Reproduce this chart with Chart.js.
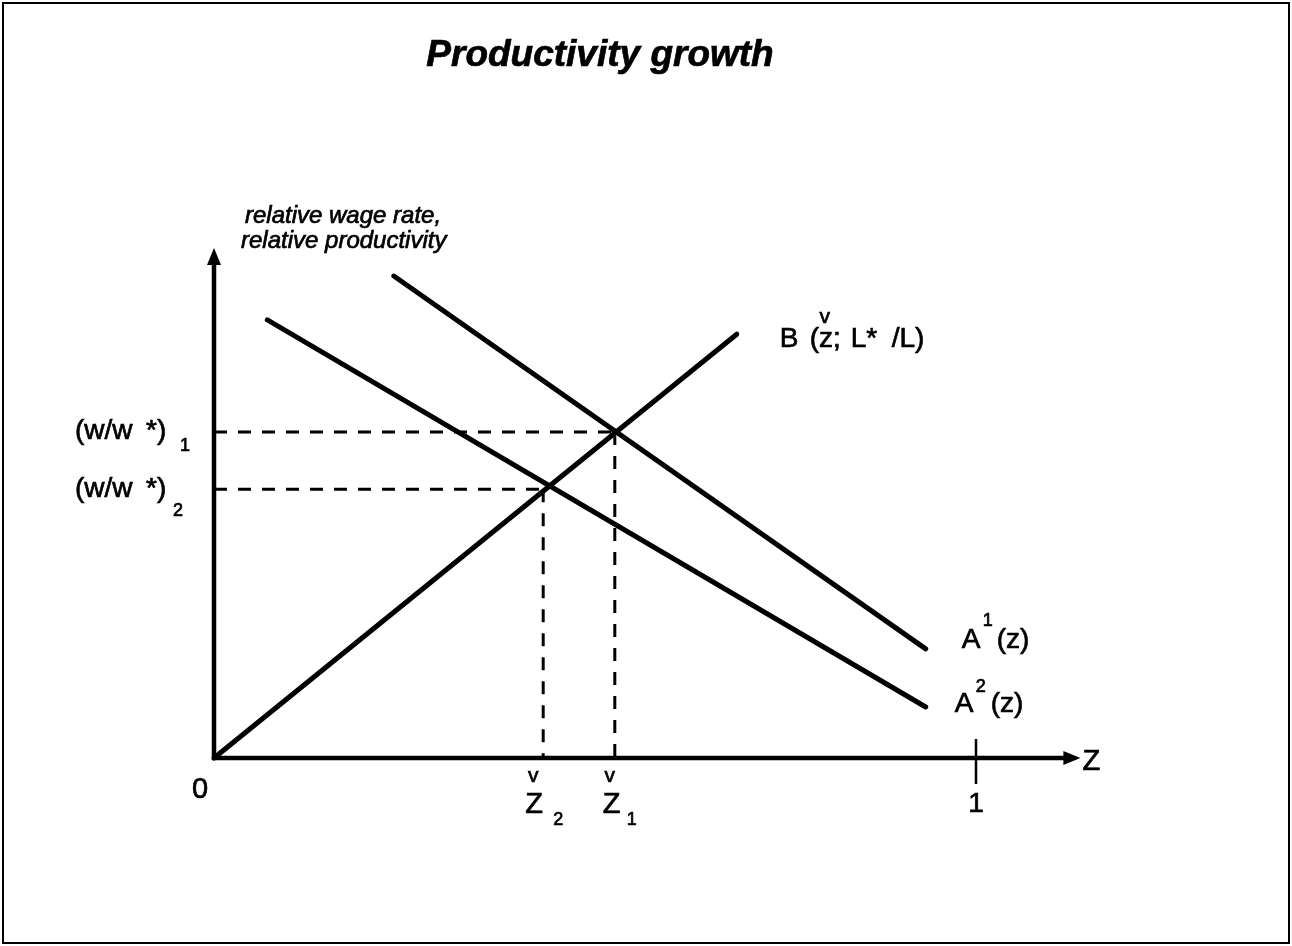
<!DOCTYPE html>
<html>
<head>
<meta charset="utf-8">
<script src="https://cdn.jsdelivr.net/npm/chart.js@4.4.1/dist/chart.umd.min.js"></script>
<style>
body { margin: 0; background: #fff; }
canvas { display: block; }
</style>
</head>
<body>
<canvas id="grafico" width="1292" height="946"></canvas>
<script>
// valores (z de 0 a 1, eixo vertical de 0 a 1)
const curvaA1X = [0.236, 0.934];
const curvaA1Y = [0.945, 0.214];
const curvaA2X = [0.070, 0.934];
const curvaA2Y = [0.859, 0.100];
const curvaBX = [0, 0.686];
const curvaBY = [0, 0.831];
const equilibrioZ = [0.526, 0.432];   // Z1, Z2
const equilibrioW = [0.639, 0.527];   // (w/w*)1, (w/w*)2
const fimEixoX = 1.137;
const fimEixoY = 1.0;
const marcaX = 1;

const FONTE = '"Liberation Sans", Arial, sans-serif';

function pontos(xs, ys) {
  return xs.map((x, i) => ({ x: x, y: ys[i] }));
}

const linhaCheia = { showLine: true, pointRadius: 0, borderColor: '#000', borderWidth: 5, clip: false, borderCapStyle: 'round' };
const linhaTracejada = { showLine: true, pointRadius: 0, borderColor: '#000', borderWidth: 3, clip: false, borderDash: [13, 11] };

const datasets = [
  Object.assign({ label: 'A1', data: pontos(curvaA1X, curvaA1Y) }, linhaCheia),
  Object.assign({ label: 'A2', data: pontos(curvaA2X, curvaA2Y) }, linhaCheia),
  Object.assign({ label: 'B', data: pontos(curvaBX, curvaBY) }, linhaCheia)
];
equilibrioZ.forEach((z, i) => {
  const w = equilibrioW[i];
  datasets.push(Object.assign({ label: 'h' + i, data: [{ x: 0, y: w }, { x: z, y: w }] }, linhaTracejada));
  datasets.push(Object.assign({ label: 'v' + i, data: [{ x: z, y: w }, { x: z, y: 0 }] }, linhaTracejada));
});

// texto um pouco mais grosso, como na copia escaneada
function texto(ctx, s, x, y, tam, estilo, alinhar) {
  ctx.font = (estilo || '') + ' ' + tam + 'px ' + FONTE;
  ctx.textAlign = alinhar || 'left';
  ctx.textBaseline = 'alphabetic';
  ctx.fillText(s, x, y);
  ctx.lineWidth = 0.7;
  ctx.strokeText(s, x, y);
}

const desenhoExtra = {
  id: 'desenhoExtra',
  beforeDatasetsDraw(chart) {
    const ctx = chart.ctx;
    const sx = chart.scales.x, sy = chart.scales.y;
    const x0 = sx.getPixelForValue(0), y0 = sy.getPixelForValue(0);
    const xf = sx.getPixelForValue(fimEixoX), yf = sy.getPixelForValue(fimEixoY);
    ctx.save();
    // moldura
    ctx.strokeStyle = '#000';
    ctx.lineWidth = 2;
    ctx.strokeRect(3, 3, chart.width - 6, chart.height - 6);
    // eixos
    ctx.lineWidth = 4.5;
    ctx.beginPath();
    ctx.moveTo(x0, yf + 12);
    ctx.lineTo(x0, y0);
    ctx.lineTo(xf - 12, y0);
    ctx.stroke();
    ctx.fillStyle = '#000';
    ctx.beginPath();
    ctx.moveTo(x0, yf); ctx.lineTo(x0 - 7, yf + 17); ctx.lineTo(x0 + 7, yf + 17); ctx.closePath();
    ctx.fill();
    ctx.beginPath();
    ctx.moveTo(xf, y0); ctx.lineTo(xf - 17, y0 - 7); ctx.lineTo(xf - 17, y0 + 7); ctx.closePath();
    ctx.fill();
    // marca em z = 1
    const xm = sx.getPixelForValue(marcaX);
    ctx.lineWidth = 2.5;
    ctx.beginPath();
    ctx.moveTo(xm, y0 - 19); ctx.lineTo(xm, y0 + 26);
    ctx.stroke();
    ctx.restore();
  },
  afterDraw(chart) {
    const ctx = chart.ctx;
    const sx = chart.scales.x, sy = chart.scales.y;
    const area = chart.chartArea;
    const x0 = sx.getPixelForValue(0), y0 = sy.getPixelForValue(0);
    const yTopo = sy.getPixelForValue(fimEixoY);
    ctx.save();
    ctx.fillStyle = '#000';
    ctx.strokeStyle = '#000';
    texto(ctx, 'Productivity growth', (area.left + area.right) / 2 + 5, 66, 37, 'italic bold', 'center');
    texto(ctx, 'relative wage rate,', x0 + 31, yTopo - 25, 24, 'italic');
    texto(ctx, 'relative productivity', x0 + 27, yTopo, 24, 'italic');

    // (w/w*)1 e (w/w*)2
    const yw1 = sy.getPixelForValue(equilibrioW[0]);
    const yw2 = sy.getPixelForValue(equilibrioW[1]);
    texto(ctx, '(w/w', x0 - 139, yw1 + 7, 28);
    texto(ctx, '*)', x0 - 68, yw1 + 7, 28);
    texto(ctx, '1', x0 - 34, yw1 + 19, 18);
    texto(ctx, '(w/w', x0 - 139, yw2 + 8, 28);
    texto(ctx, '*)', x0 - 68, yw2 + 8, 28);
    texto(ctx, '2', x0 - 41, yw2 + 27, 18);

    // origem, Z1, Z2, 1 e Z
    texto(ctx, '0', x0 - 22, y0 + 40, 29);
    const xz1 = sx.getPixelForValue(equilibrioZ[0]);
    const xz2 = sx.getPixelForValue(equilibrioZ[1]);
    texto(ctx, 'v', xz2 - 10, y0 + 24, 21, '', 'center');
    texto(ctx, 'Z', xz2 - 18, y0 + 55, 29);
    texto(ctx, '2', xz2 + 10, y0 + 67, 18);
    texto(ctx, 'v', xz1 - 5, y0 + 24, 21, '', 'center');
    texto(ctx, 'Z', xz1 - 12, y0 + 55, 29);
    texto(ctx, '1', xz1 + 12, y0 + 67, 18);
    texto(ctx, '1', sx.getPixelForValue(marcaX), y0 + 54, 28, '', 'center');
    texto(ctx, 'Z', sx.getPixelForValue(fimEixoX) + 2, y0 + 12, 29);

    // rotulos das curvas
    const xa1 = sx.getPixelForValue(curvaA1X[1]), ya1 = sy.getPixelForValue(curvaA1Y[1]);
    texto(ctx, 'A', xa1 + 36, ya1 - 1, 28);
    texto(ctx, '1', xa1 + 57, ya1 - 23, 18);
    texto(ctx, '(z)', xa1 + 71, ya1 - 1, 28);
    const xa2 = sx.getPixelForValue(curvaA2X[1]), ya2 = sy.getPixelForValue(curvaA2Y[1]);
    texto(ctx, 'A', xa2 + 29, ya2 + 5, 28);
    texto(ctx, '2', xa2 + 50, ya2 - 15, 18);
    texto(ctx, '(z)', xa2 + 65, ya2 + 5, 28);
    const xb = sx.getPixelForValue(curvaBX[1]), yb = sy.getPixelForValue(curvaBY[1]);
    texto(ctx, 'B', xb + 43, yb + 13, 28);
    texto(ctx, '(z;', xb + 73, yb + 13, 28);
    texto(ctx, 'v', xb + 88, yb - 11, 21, '', 'center');
    texto(ctx, 'L*', xb + 114, yb + 13, 28);
    texto(ctx, '/L)', xb + 155, yb + 13, 28);
    ctx.restore();
  }
};

new Chart(document.getElementById('grafico').getContext('2d'), {
  type: 'scatter',
  data: { datasets: datasets },
  options: {
    responsive: false,
    animation: false,
    layout: { padding: { left: 214, right: 316, top: 248, bottom: 188 } },
    scales: {
      x: { type: 'linear', min: 0, max: 1, display: false },
      y: { type: 'linear', min: 0, max: 1, display: false }
    },
    plugins: { legend: { display: false }, tooltip: { enabled: false } }
  },
  plugins: [desenhoExtra]
});
</script>
</body>
</html>
